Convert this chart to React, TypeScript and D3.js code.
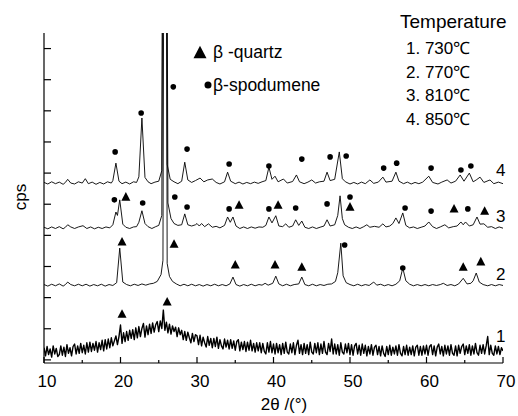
import React from 'react';
import * as d3 from 'd3';

const W = 518;
const H = 416;
const margin = { top: 33, right: 15, bottom: 53, left: 44 };

// axis ticks
const xTicks = [10, 20, 30, 40, 50, 60, 70];
const xMinorTicks = [15, 25, 35, 45, 55, 65];
const yTicks = [0, 100, 200, 300, 400, 500, 600, 700, 800, 900, 1000];

// vertical offset (cps) of each pattern in the stack
const offsets = [25, 240, 424, 568];
const curveLabels = ['1', '2', '3', '4'];
const labelPos = [33, 17, 19, 24]; // cps above offset for the number's baseline
const temperatures = ['1. 730℃', '2. 770℃', '3. 810℃', '4. 850℃'];

// pattern 1 (730 C): step scan, 10 deg start, 0.2 deg step
const scan1Start = 10;
const scan1Step = 0.2;
const scan1 = [
  14, -12, 18, -8, 10, -16, 20, -6, 12, -14,
  -8, 20, -10, 16, -14, 24, -4, 14, -12, 18,
  26, -6, 20, -4, 28, -2, 22, -6, 30, 0,
  32, 2, 28, 6, 34, 0, 30, 8, 38, 4,
  40, 10, 42, 14, 46, 20, 36, 52, 24, 50,
  87, 28, 62, 34, 66, 38, 70, 44, 72, 40,
  78, 46, 82, 50, 76, 92, 48, 84, 56, 90,
  60, 94, 64, 88, 98, 66, 100, 76, 135, 70,
  96, 62, 90, 58, 84, 66, 80, 50, 78, 56,
  70, 40, 66, 38, 64, 46, 30, 60, 34, 56,
  52, 24, 54, 20, 48, 30, 16, 50, 22, 44,
  14, 44, 18, 48, 12, 40, 20, 10, 42, 16,
  38, 10, 40, 12, 36, 6, 34, 40, 4, 32,
  8, 34, 2, 32, 6, 38, 4, 28, 0, 30,
  4, 30, -2, 28, 2, -6, 30, 0, 34, -2,
  26, -6, 28, -2, 24, -8, 28, -4, 32, 0,
  -6, 26, -2, 30, -8, 22, 38, -4, 24, -8,
  28, -4, 24, -8, 32, 0, -6, 28, -2, 30,
  -8, 26, -4, 34, 0, -8, 28, 2, 42, -6,
  26, -6, 24, -10, 30, 0, -6, 26, -2, 28,
  -8, 24, -10, 20, 28, -6, 22, -10, 26, -4,
  22, -12, 18, -6, 24, -10, 16, 22, -8, 18,
  -12, 20, -4, -14, 18, -8, 22, -10, 16, -6,
  20, -10, 24, -4, -12, 18, -8, 22, -10, 16,
  -8, 20, -12, 16, 22, -10, 18, -10, 20, -6,
  22, -10, 18, 24, -8, 20, -12, 16, 26, -6,
  18, -12, 22, -6, 20, -10, 24, -4, -10, 20,
  -12, 22, -4, 18, 26, -8, 20, -4, 24, -10,
  20, -6, 28, -2, -10, 22, -4, 24, -6, 20,
  50, -8, 22, -4, -10, 20, -6, 18, -8, 14,
  4,
];

// pattern 2 (770 C): [2theta, cps above its own baseline]
const pattern2: [number, number][] = [
  [10, 2], [10.5, -3], [11, 3], [11.5, -2], [12, 4], [12.5, -3], [12.8, 2], [13.1, 10], [13.5, 2], [14, -2],
  [14.5, 3], [15, -2], [15.5, 3], [16, -3], [16.5, 2], [17, -2], [17.5, 3], [18, -3], [18.5, 2], [19.0, -1],
  [19.5, 8], [19.9, 119], [20.3, 10], [20.8, 2], [21.3, -2], [21.8, 3], [22.3, -1], [22.8, 4], [23.3, 0], [23.8, 4],
  [24.3, 6], [24.8, 12], [25.3, 34], [25.55, 80], [25.85, 3000], [26.1, 70], [26.4, 28], [26.8, 12], [27.3, 4], [27.8, -2],
  [28.3, 3], [28.8, -2], [29.3, 3], [29.8, -2], [30.3, 2], [30.8, -3], [31.3, 2], [31.8, -2], [32.3, 3], [32.8, -2],
  [33.3, 2], [33.8, -2], [34.3, 4], [34.7, 26], [35.1, 2], [35.6, -3], [36.1, 2], [36.6, -2], [37.1, 3], [37.6, -2],
  [38.1, 2], [38.5, 0], [38.9, 6], [39.3, 0], [39.9, 6], [40.3, 29], [40.7, 4], [41.2, -2], [41.7, 3], [42.2, -2],
  [42.7, 2], [43.3, 4], [43.7, 26], [44.1, 2], [44.6, -2], [45.1, 3], [45.6, -2], [46.1, 2], [46.6, -1], [47.1, 3],
  [47.6, 4], [48.1, 12], [48.4, 40], [48.8, 135], [49.1, 30], [49.5, 8], [50.0, 2], [50.5, -2], [51.0, 3], [51.5, -2],
  [52.0, 2], [52.5, -1], [53.1, 10], [53.5, 0], [54.0, 3], [54.5, -2], [55.0, 2], [55.5, -2], [56.0, 3], [56.5, 14],
  [56.9, 55], [57.3, 14], [57.8, 3], [58.3, -2], [58.8, 2], [59.3, -2], [59.8, 2], [60.3, -2], [60.8, 2], [61.3, -1],
  [61.8, 2], [62.2, 6], [62.7, -1], [63.2, 2], [63.7, -2], [64.2, 4], [64.8, 22], [65.3, 4], [65.8, 6], [66.1, 14],
  [66.5, 39], [66.9, 10], [67.4, 2], [68.0, -2], [68.5, 2], [69.0, -2], [69.5, 2], [70, -1],
];

// pattern 3 (810 C)
const pattern3: [number, number][] = [
  [10, 2], [10.5, -3], [11, 3], [11.5, -2], [12, 4], [12.5, -3], [12.8, 2], [13.1, 10], [13.5, 3], [14, -2],
  [14.5, 3], [15.1, 7], [15.6, -2], [16.1, 3], [16.6, -3], [17.1, 2], [17.6, -2], [18.1, 3], [18.6, 0], [19.0, 10],
  [19.4, 51], [19.6, 40], [19.9, 90], [20.3, 12], [20.7, 2], [21.2, -2], [21.7, 3], [22.1, 4], [22.4, 18], [22.8, 55],
  [23.2, 14], [23.6, 4], [24.1, -2], [24.6, 4], [25.0, 8], [25.4, 40], [25.8, 3000], [26.2, 80], [26.6, 30],
  [27.0, 14], [27.5, 8], [28.0, 10], [28.4, 45], [28.8, 10], [29.3, 6], [29.8, 10], [30.0, 14], [30.3, 6], [30.6, 14],
  [31.0, 4], [31.5, 13], [32.0, 2], [32.5, 5], [33.0, 0], [33.6, 8], [34.0, 35], [34.35, 18], [34.7, 35], [35.1, 6],
  [35.6, -2], [36.1, 3], [36.6, -2], [37.1, 3], [37.6, -1], [38.1, 3], [38.6, 2], [39.0, 8], [39.4, 35], [39.8, 16],
  [40.3, 39], [40.7, 6], [41.2, 4], [41.6, 13], [42.0, 2], [42.5, 6], [42.9, 26], [43.3, 8], [43.7, 22], [44.1, 2],
  [44.6, -2], [45.1, 3], [45.6, -2], [46.2, 3], [46.6, 6], [47.0, 26], [47.4, 6], [48.0, 10], [48.4, 40], [48.7, 103],
  [49.0, 30], [49.3, 10], [49.8, 2], [50.3, -2], [50.8, 3], [51.3, -2], [51.8, 4], [52.2, 10], [52.6, 2], [53.2, 5],
  [53.8, 2], [54.3, 13], [54.7, 3], [55.2, 6], [55.6, 14], [56.0, 32], [56.4, 14], [56.9, 48], [57.3, 8], [57.8, 0],
  [58.3, 3], [58.8, -2], [59.3, 2], [59.8, 6], [60.3, 19], [60.8, 4], [61.3, -2], [61.8, 3], [62.4, 10], [62.9, 0],
  [63.5, 4], [64.0, 6], [64.5, 19], [64.8, 10], [65.1, 19], [65.6, 6], [66.1, 10], [66.6, 35], [67.0, 12], [67.5, 13],
  [68.0, 2], [68.5, 4], [69.0, -2], [69.5, 3], [70, -1],
];

// pattern 4 (850 C)
const pattern4: [number, number][] = [
  [10, 2], [10.5, -3], [11, 4], [11.5, -2], [12, 3], [12.5, -4], [12.8, 2], [13.1, 12], [13.5, 0], [14, -3],
  [14.5, 4], [15, 0], [15.4, 14], [15.8, -2], [16.3, 3], [16.8, -4], [17.3, 2], [17.8, -3], [18.3, 4], [18.8, 0],
  [19.0, 8], [19.4, 64], [19.8, 6], [20.2, -2], [20.7, 3], [21.2, -3], [21.7, 4], [22.1, 2], [22.4, 20], [22.8, 209],
  [23.2, 18], [23.6, 4], [24.0, -2], [24.5, 3], [25.0, 6], [25.4, 40], [25.75, 3000], [26.1, 60], [26.5, 12],
  [27.0, 4], [27.5, -2], [28.0, 6], [28.4, 67], [28.8, 10], [29.3, 2], [29.8, 8], [30.4, 16], [30.9, 4], [31.4, 10],
  [32.0, 13], [32.5, 2], [33.0, -3], [33.6, 4], [34.0, 35], [34.4, 6], [35.0, -2], [35.5, 3], [36.0, -3], [36.5, 2],
  [37.0, -2], [37.5, 3], [38.0, -1], [38.5, 4], [39.0, 8], [39.4, 51], [39.8, 12], [40.2, 22], [40.6, 4], [41.3, 13],
  [41.8, 0], [42.5, 5], [43.0, 26], [43.4, 4], [44.0, -2], [44.5, 3], [45.0, 10], [45.5, 0], [46.0, 4], [46.6, 6],
  [47.0, 35], [47.4, 8], [48.0, 12], [48.6, 100], [49.0, 14], [49.4, 4], [50.0, -3], [50.5, 2], [51.0, -3], [51.5, 3],
  [52.0, -2], [52.6, 10], [53.1, -1], [53.7, 3], [54.3, 19], [54.7, 3], [55.5, 6], [56.0, 35], [56.4, 6], [57.0, -2],
  [57.5, 3], [58.0, -3], [58.5, 2], [59.0, -2], [59.5, 3], [60.3, 22], [60.8, 2], [61.5, -3], [62.0, 3], [62.7, 10],
  [63.2, 0], [63.8, 6], [64.4, 26], [64.9, 6], [65.6, 32], [66.1, 4], [66.5, 10], [67.0, 19], [67.5, 2], [68.3, 10],
  [68.8, -2], [69.4, 3], [70, -2],
];

// phase markers [2theta, absolute cps]
const quartzMarks: [number, number][] = [
  [20.2, 147], [26.1, 186],
  [20.2, 379], [27.0, 372], [35.0, 305], [40.2, 305], [43.7, 298], [64.8, 298], [67.1, 315],
  [20.7, 523], [35.5, 497], [40.6, 497], [50.0, 491], [63.6, 485], [67.6, 478],
];
const spodumeneMarks: [number, number][] = [
  [49.3, 369], [56.9, 295],
  [19.2, 514], [22.9, 504], [27.1, 523], [28.7, 491], [34.2, 485], [39.4, 485], [42.9, 488], [47.0, 501],
  [50.0, 523], [57.2, 488], [60.6, 478], [65.4, 485],
  [19.3, 668], [22.7, 793], [26.9, 877], [28.7, 677], [34.2, 629], [39.4, 623], [43.7, 645], [47.4, 652],
  [49.5, 655], [54.4, 616], [56.1, 632], [60.6, 616], [64.5, 610], [65.8, 623],
];

const font = '"Liberation Sans", Arial, Helvetica, sans-serif';

function tri(cx: number, cy: number, s: number) {
  return `M${cx},${cy - s * 0.55}L${cx + s * 0.5},${cy + s * 0.4}L${cx - s * 0.5},${cy + s * 0.4}Z`;
}

export default function App() {
  const x = d3.scaleLinear().domain([10, 70]).range([margin.left, W - margin.right]);
  const y = d3.scaleLinear().domain([-10, 1050]).range([H - margin.bottom, margin.top]);
  const x0 = margin.left, x1 = W - margin.right;
  const y0 = H - margin.bottom, y1 = margin.top;

  const line = d3.line<[number, number]>().x(d => x(d[0])).y(d => y(d[1]));
  const series: [number, number][][] = [
    scan1.map((v, i) => [scan1Start + i * scan1Step, v] as [number, number]),
    pattern2, pattern3, pattern4,
  ];

  return (
    <svg width={W} height={H} style={{ position: 'absolute', left: 0, top: 0, background: '#fff' }}
      fontFamily={font}>
      <defs>
        <clipPath id="plot">
          <rect x={x0} y={y1} width={x1 - x0} height={y0 - y1} />
        </clipPath>
      </defs>
      <g clipPath="url(#plot)" fill="none" stroke="#000" strokeLinejoin="round">
        {series.map((s, i) => (
          <path key={i} strokeWidth={i === 0 ? 1.4 : 0.9}
            d={line(s.map(d => [d[0], d[1] + offsets[i]] as [number, number])) || ''} />
        ))}
      </g>
      {/* markers */}
      <g fill="#000">
        {quartzMarks.map((d, i) => <path key={'q' + i} d={tri(x(d[0]), y(d[1]), 9)} />)}
        {spodumeneMarks.map((d, i) => <circle key={'s' + i} cx={x(d[0])} cy={y(d[1])} r={2.8} />)}
      </g>
      {/* axes */}
      <g stroke="#000" strokeWidth={1.2} fill="none">
        <line x1={x0} y1={y1} x2={x0} y2={y0} />
        <line x1={x0} y1={y0} x2={x1} y2={y0} />
        {yTicks.map(t => <line key={'y' + t} x1={x0} x2={x0 + 7} y1={y(t)} y2={y(t)} />)}
        {xTicks.map(t => <line key={'x' + t} x1={x(t)} x2={x(t)} y1={y0} y2={y0 - 6} />)}
        {xMinorTicks.map(t => <line key={'m' + t} x1={x(t)} x2={x(t)} y1={y0} y2={y0 - 3} />)}
      </g>
      <g fontSize={17} textAnchor="middle" fill="#000">
        {xTicks.map(t => <text key={t} x={x(t) + 3} y={387}>{t}</text>)}
      </g>
      <text x={284} y={410} fontSize={17} textAnchor="middle">2θ /(°)</text>
      <text transform="translate(26,197) rotate(-90)" fontSize={17} textAnchor="middle">cps</text>
      {/* curve numbers */}
      <g fontSize={17} textAnchor="middle">
        {curveLabels.map((l, i) => (
          <text key={l} x={x(69.7)} y={y(offsets[i] + labelPos[i])}>{l}</text>
        ))}
      </g>
      {/* phase legend */}
      <path d={tri(200, 53, 13)} fill="#000" />
      <text x={213} y={58} fontSize={17.5}>β -quartz</text>
      <circle cx={208} cy={85} r={3.5} fill="#000" />
      <text x={213} y={91} fontSize={17.5}>β-spodumene</text>
      {/* temperature legend */}
      <text x={400} y={28} fontSize={19}>Temperature</text>
      {temperatures.map((t, i) => (
        <text key={t} x={406} y={54 + i * 23.7} fontSize={17}>{t}</text>
      ))}
    </svg>
  );
}
